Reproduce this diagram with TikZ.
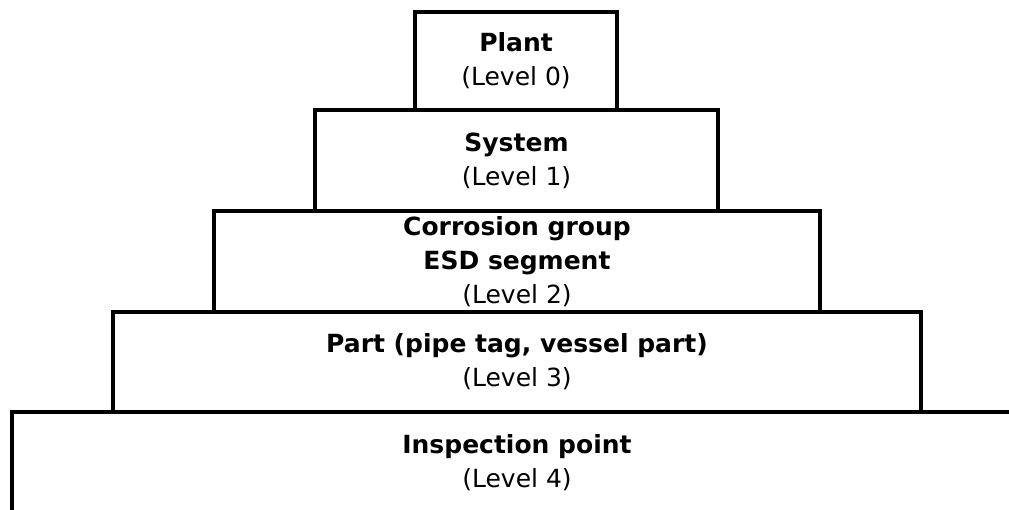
\documentclass[tikz,border=0pt]{standalone}
\usepackage{fontspec}
\setmainfont{DejaVu Sans}
\begin{document}
\begin{tikzpicture}[
	x=1pt, y=-1pt,
	level/.style={
		rectangle, draw=black, line width=4pt,
		inner sep=0pt, align=center,
		font=\fontsize{25}{34}\selectfont
	},
	]
	\useasboundingbox (0,0) rectangle (1009,510);

	\node [level, minimum width=202pt, minimum height=98pt] (plant) at (516,61)
		{\textbf{Plant}\\(Level 0)};
	\node [level, minimum width=403pt, minimum height=101pt] (system) at (516.5,160.5)
		{\textbf{System}\\(Level 1)};
	\node [level, minimum width=606pt, minimum height=101pt] (group) at (517,261.5)
		{\textbf{Corrosion group}\\\textbf{ESD segment}\\(Level 2)};
	\node [level, minimum width=808pt, minimum height=100pt] (part) at (517,362)
		{\textbf{Part (pipe tag, vessel part)}\\(Level 3)};
	\node [level, minimum width=1010pt, minimum height=102pt] (point) at (517,463)
		{\textbf{Inspection point}\\(Level 4)};
\end{tikzpicture}
\end{document}
